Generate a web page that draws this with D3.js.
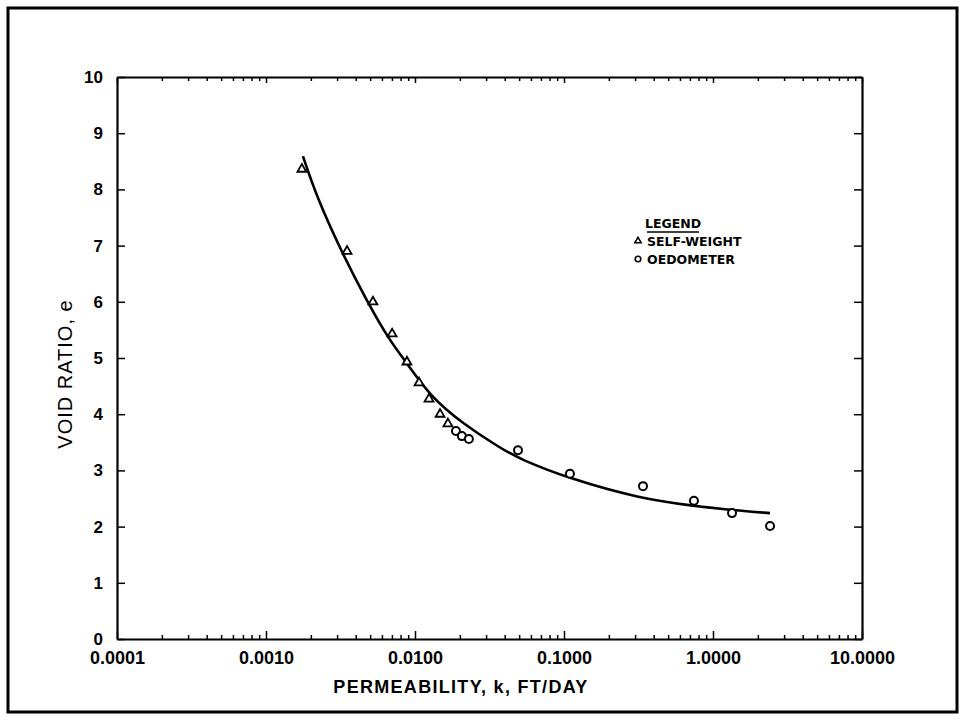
<!DOCTYPE html>
<html>
<head>
<meta charset="utf-8">
<script src="https://cdn.jsdelivr.net/npm/d3@7"></script>
<style>
  html, body { margin: 0; padding: 0; background: #fff; }
  svg { display: block; }
</style>
</head>
<body>
<svg id="chart" width="966" height="721"></svg>
<script>
// ---- data ----
const selfWeightK = [0.00174, 0.0035, 0.00522, 0.00702, 0.00883, 0.01064, 0.01242, 0.01473, 0.01663];
const selfWeightE = [8.36, 6.90, 6.00, 5.43, 4.93, 4.56, 4.27, 4.00, 3.83];
const oedometerK = [0.01883, 0.02063, 0.0230, 0.0491, 0.1096, 0.339, 0.745, 1.342, 2.415];
const oedometerE = [3.70, 3.61, 3.56, 3.36, 2.94, 2.72, 2.46, 2.24, 2.01];
const curveK = [0.00177, 0.00220, 0.00324, 0.00476, 0.00679, 0.00883, 0.01262, 0.0210, 0.0372, 0.0507, 0.1096, 0.324, 0.734, 1.36, 2.415];
const curveE = [8.59, 7.85, 6.87, 6.01, 5.30, 4.91, 4.32, 3.83, 3.40, 3.20, 2.85, 2.50, 2.37, 2.29, 2.24];
const xTickValues = [0.0001, 0.001, 0.01, 0.1, 1, 10];
const xTickLabels = ["0.0001", "0.0010", "0.0100", "0.1000", "1.0000", "10.0000"];
const yTickValues = [0, 1, 2, 3, 4, 5, 6, 7, 8, 9, 10];
const legendLabels = ["SELF-WEIGHT", "OEDOMETER"];

// ---- layout ----
const svg = d3.select("#chart");
const L = 117, R = 862, T = 77, B = 639;
const x = d3.scaleLog().domain([0.0001, 10]).range([L, R]);
const y = d3.scaleLinear().domain([0, 10]).range([B, T]);

// outer border
svg.append("rect").attr("x", 8).attr("y", 8).attr("width", 949).attr("height", 704)
  .attr("fill", "none").attr("stroke", "#000").attr("stroke-width", 3);

// minor tick values
const minor = [];
for (let d = -4; d < 1; d++) for (let m = 2; m <= 9; m++) minor.push(m * Math.pow(10, d));

const g = svg.append("g");
// bottom axis
const bottomAxis = g.append("g").attr("transform", `translate(0,${B})`)
  .call(d3.axisBottom(x).tickValues(xTickValues).tickFormat((d, i) => xTickLabels[i]).tickSizeInner(-8).tickSizeOuter(0).tickPadding(12));
bottomAxis.append("g").call(d3.axisBottom(x).tickValues(minor).tickFormat("").tickSizeInner(-4).tickSizeOuter(0))
  .select(".domain").remove();
// top axis
const topAxis = g.append("g").attr("transform", `translate(0,${T})`)
  .call(d3.axisTop(x).tickValues(xTickValues).tickFormat("").tickSizeInner(-6).tickSizeOuter(0));
topAxis.append("g").call(d3.axisTop(x).tickValues(minor).tickFormat("").tickSizeInner(-4).tickSizeOuter(0))
  .select(".domain").remove();
// left axis
const leftAxis = g.append("g").attr("transform", `translate(${L},0)`)
  .call(d3.axisLeft(y).tickValues(yTickValues).tickFormat(d3.format("d")).tickSizeInner(-8).tickSizeOuter(0).tickPadding(14));
// right axis
g.append("g").attr("transform", `translate(${R},0)`)
  .call(d3.axisRight(y).tickValues(yTickValues).tickFormat("").tickSizeInner(-8).tickSizeOuter(0));

g.selectAll(".domain").attr("stroke", "#000").attr("stroke-width", 2.2);
g.selectAll(".tick line").attr("stroke", "#000").attr("stroke-width", 1.5);
g.selectAll(".tick text").attr("font-family", "Liberation Sans, Arial, sans-serif")
  .attr("font-weight", "bold").attr("fill", "#000");
bottomAxis.selectAll(".tick text").attr("font-size", 18);
leftAxis.selectAll(".tick text").attr("font-size", 17);

// axis titles
svg.append("text").attr("x", 461).attr("y", 693).attr("text-anchor", "middle")
  .attr("font-family", "Liberation Sans, Arial, sans-serif").attr("font-size", 18).attr("font-weight", "bold")
  .attr("letter-spacing", 1.3).attr("fill", "#000")
  .text("PERMEABILITY, k, FT/DAY");
svg.append("text").attr("transform", `translate(72,374) rotate(-90)`).attr("text-anchor", "middle")
  .attr("font-family", "Liberation Sans, Arial, sans-serif").attr("font-size", 20)
  .attr("letter-spacing", 1).attr("fill", "#000")
  .text("VOID RATIO, e");

// curve
const curve = curveK.map((k, i) => [k, curveE[i]]);
svg.append("path").datum(curve)
  .attr("d", d3.line().x(d => x(d[0])).y(d => y(d[1])).curve(d3.curveBasis))
  .attr("fill", "none").attr("stroke", "#000").attr("stroke-width", 2.6);

// markers
const tri = d3.symbol().type(d3.symbolTriangle).size(34);
svg.append("g").selectAll("path").data(selfWeightK.map((k, i) => [k, selfWeightE[i]])).join("path")
  .attr("d", tri).attr("transform", d => `translate(${x(d[0])},${y(d[1])})`)
  .attr("fill", "#fff").attr("stroke", "#000").attr("stroke-width", 1.8);
svg.append("g").selectAll("circle").data(oedometerK.map((k, i) => [k, oedometerE[i]])).join("circle")
  .attr("cx", d => x(d[0])).attr("cy", d => y(d[1])).attr("r", 4)
  .attr("fill", "#fff").attr("stroke", "#000").attr("stroke-width", 2);

// legend
const lg = svg.append("g").attr("font-family", "DejaVu Sans, sans-serif").attr("font-weight", "bold").attr("font-size", 12.5).attr("fill", "#000");
lg.append("text").attr("x", 673).attr("y", 228).attr("text-anchor", "middle").text("LEGEND");
lg.append("line").attr("x1", 647).attr("x2", 699).attr("y1", 232).attr("y2", 232).attr("stroke", "#000").attr("stroke-width", 1.5);
lg.append("text").attr("x", 647).attr("y", 246).text(legendLabels[0]);
lg.append("text").attr("x", 647).attr("y", 264).text(legendLabels[1]);
lg.append("path").attr("d", d3.symbol().type(d3.symbolTriangle).size(18)).attr("transform", "translate(638,241)")
  .attr("fill", "#fff").attr("stroke", "#000").attr("stroke-width", 1.5);
lg.append("circle").attr("cx", 638).attr("cy", 259).attr("r", 2.8)
  .attr("fill", "#fff").attr("stroke", "#000").attr("stroke-width", 1.6);
</script>
</body>
</html>
